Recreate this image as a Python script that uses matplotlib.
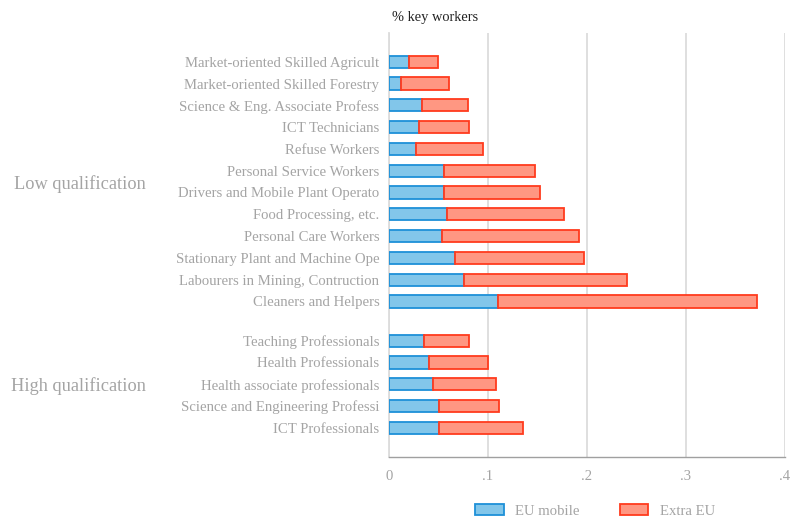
import matplotlib
matplotlib.use("Agg")
import matplotlib.pyplot as plt
import numpy as np

low_labels = ["Market-oriented Skilled Agricult", "Market-oriented Skilled Forestry",
              "Science & Eng. Associate Profess", "ICT Technicians", "Refuse Workers",
              "Personal Service Workers", "Drivers and Mobile Plant Operato",
              "Food Processing, etc.", "Personal Care Workers",
              "Stationary Plant and Machine Ope", "Labourers in Mining, Contruction",
              "Cleaners and Helpers"]
low_eu = [0.020, 0.012, 0.033, 0.030, 0.027, 0.056, 0.056, 0.059, 0.054, 0.067, 0.076, 0.110]
low_total = [0.049, 0.061, 0.080, 0.081, 0.095, 0.147, 0.153, 0.177, 0.192, 0.197, 0.240, 0.372]

high_labels = ["Teaching Professionals", "Health Professionals",
               "Health associate professionals", "Science and Engineering Professi",
               "ICT Professionals"]
high_eu = [0.035, 0.040, 0.044, 0.051, 0.050]
high_total = [0.081, 0.100, 0.108, 0.111, 0.135]

groups = ["Low qualification", "High qualification"]
series = ["EU mobile", "Extra EU"]
xticks = [0, 0.1, 0.2, 0.3, 0.4]
xticklabels = ["0", ".1", ".2", ".3", ".4"]

FONT = "Liberation Serif"
plt.rcParams['font.family'] = [FONT, 'DejaVu Serif']

fig = plt.figure(figsize=(7.9, 5.19), dpi=100)
ax = fig.add_axes([389/790, 1-457/519, 396/790, 424/519])

gap = 1.8
ylow = np.arange(len(low_labels), dtype=float)
yhigh = ylow[-1] + gap + np.arange(len(high_labels))
ys = np.concatenate([ylow, yhigh])
eu = np.array(low_eu + high_eu)
tot = np.array(low_total + high_total)
extra = tot - eu
labels = low_labels + high_labels

blue_fc, blue_ec = "#82C6EA", "#1E90D8"
red_fc, red_ec = "#FF9782", "#FF3B1E"
h = 0.56
ax.barh(ys, eu, height=h, color=blue_fc, edgecolor=blue_ec, linewidth=1.3, label=series[0], zorder=3)
ax.barh(ys, extra, left=eu, height=h, color=red_fc, edgecolor=red_ec, linewidth=1.3, label=series[1], zorder=3)

ax.set_ylim(yhigh[-1] + 1.34, -1.32)
ax.set_xlim(0, 0.4)
ax.set_yticks(ys)
ax.set_yticklabels(labels, fontsize=10.6, color="#A4A4A4")
ax.set_xticks(xticks)
ax.set_xticklabels(xticklabels, fontsize=10.6, color="#A4A4A4")
ax.tick_params(axis='y', length=0, pad=7)
ax.tick_params(axis='x', length=0, pad=9)
ax.grid(axis='x', color="#DCDCDC", linewidth=1.3, zorder=0)
ax.set_axisbelow(True)
for s in ['top', 'right']:
    ax.spines[s].set_visible(False)
ax.spines['left'].set_color("#DCDCDC")
ax.spines['left'].set_linewidth(1.3)
ax.spines['bottom'].set_color("#A0A0A0")
ax.spines['bottom'].set_linewidth(1.0)

# group labels
fig.text(146/790, 1-184/519, groups[0], ha='right', va='center', fontsize=13.2, color="#A4A4A4")
fig.text(146/790, 1-386/519, groups[1], ha='right', va='center', fontsize=13.2, color="#A4A4A4")

fig.text(392/790, 1-18/519, "% key workers", ha='left', va='center', fontsize=10.4, color="#222222")

fig.legend(loc='center', bbox_to_anchor=(595/790, 1-511/519), ncol=2, frameon=False,
           fontsize=10.6, handlelength=1.95, handleheight=0.75, columnspacing=2.7,
           handletextpad=0.8, labelcolor="#A4A4A4")

fig.savefig("out.png", dpi=100)
